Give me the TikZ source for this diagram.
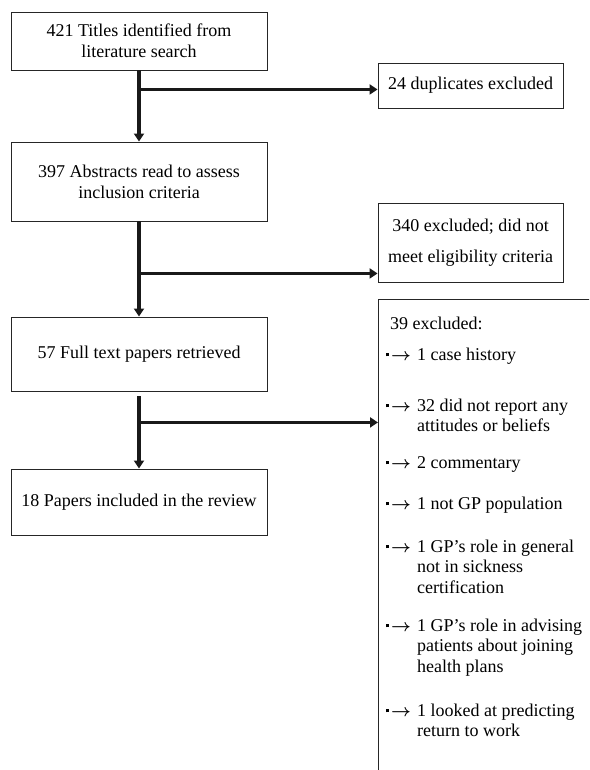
\documentclass[tikz,border=0pt]{standalone}
\usepackage{fontspec}
\setmainfont{Liberation Serif}
\usetikzlibrary{arrows.meta}
\begin{document}
\begin{tikzpicture}[x=1pt,y=-1pt,
  box/.style={draw=black!85, line width=0.9pt, inner sep=0pt, align=center,
    font=\fontsize{18}{21}\selectfont},
  conn/.style={draw=black!90, line width=3.5pt, -{Triangle[length=8pt,width=10pt]}},
  itemtxt/.style={anchor=base west, inner sep=0pt, align=left,
    font=\fontsize{18}{20.5}\selectfont},
  bulletmark/.style={anchor=base west, inner sep=0pt, font=\fontsize{16}{20}\selectfont}
]
\useasboundingbox (0,0) rectangle (589,770);
\clip (0,0) rectangle (589,770);

% main column
\node[box, minimum width=256pt, minimum height=58pt] (b1) at (139,41)
  {421 Titles identified from\\literature search};
\node[box, minimum width=256pt, minimum height=79pt] (b2) at (139,181.5)
  {397 Abstracts read to assess\\inclusion criteria};
\node[box, minimum width=256pt, minimum height=74pt] (b3) at (139,354)
  {57 Full text papers retrieved};
\node[box, minimum width=256pt, minimum height=66pt] (b4) at (139,502)
  {18 Papers included in the review};

% exclusion boxes
\node[box, minimum width=185pt, minimum height=45pt] (e1) at (470.5,85.5)
  {24 duplicates excluded};
\node[box, minimum width=185pt, minimum height=79pt,
  font=\fontsize{18}{31}\selectfont] (e2) at (470.5,242.5)
  {340 excluded; did not\\meet eligibility criteria};
\node[box, anchor=north west, minimum width=400pt, minimum height=600pt] (e3) at (378,299) {};

% connectors
\path (b1.south) ++(0,19) coordinate (j1);
\path (b2.south) ++(0,52) coordinate (j2);
\path (b3.south) ++(0,31) coordinate (j3);
\draw[conn] (b1.south) -- (b2.north);
\draw[conn] (j1) -- (j1 -| e1.west);
\draw[conn] (b2.south) -- (b3.north);
\draw[conn] (j2) -- (j2 -| e2.west);
\draw[conn] ([yshift=-5pt]b3.south) -- (b4.north);
\draw[conn] (j3) -- (j3 -| e3.west);

% list in the large box (a multi-line node sits on the baseline of its last line)
\node[itemtxt] (h) at (390,329) {39 excluded:};
\newcommand{\sqarrow}{\rule[0.23em]{0.19em}{0.19em}\hspace{0.12em}\mbox{\boldmath$\rightarrow$}}
\node[bulletmark] (m1) at (386,360) {\sqarrow};
\node[itemtxt] (t1) at (417,360) {1 case history};
\node[bulletmark] (m2) at (386,411) {\sqarrow};
\node[itemtxt] (t2) at (417,431.5) {32 did not report any\\attitudes or beliefs};
\node[bulletmark] (m3) at (386,468) {\sqarrow};
\node[itemtxt] (t3) at (417,468) {2 commentary};
\node[bulletmark] (m4) at (386,509) {\sqarrow};
\node[itemtxt] (t4) at (417,509) {1 not GP population};
\node[bulletmark] (m5) at (386,552) {\sqarrow};
\node[itemtxt] (t5) at (417,593) {1 GP’s role in general\\not in sickness\\certification};
\node[bulletmark] (m6) at (386,631) {\sqarrow};
\node[itemtxt] (t6) at (417,672) {1 GP’s role in advising\\patients about joining\\health plans};
\node[bulletmark] (m7) at (386,716) {\sqarrow};
\node[itemtxt] (t7) at (417,736.5) {1 looked at predicting\\return to work};
\end{tikzpicture}
\end{document}
